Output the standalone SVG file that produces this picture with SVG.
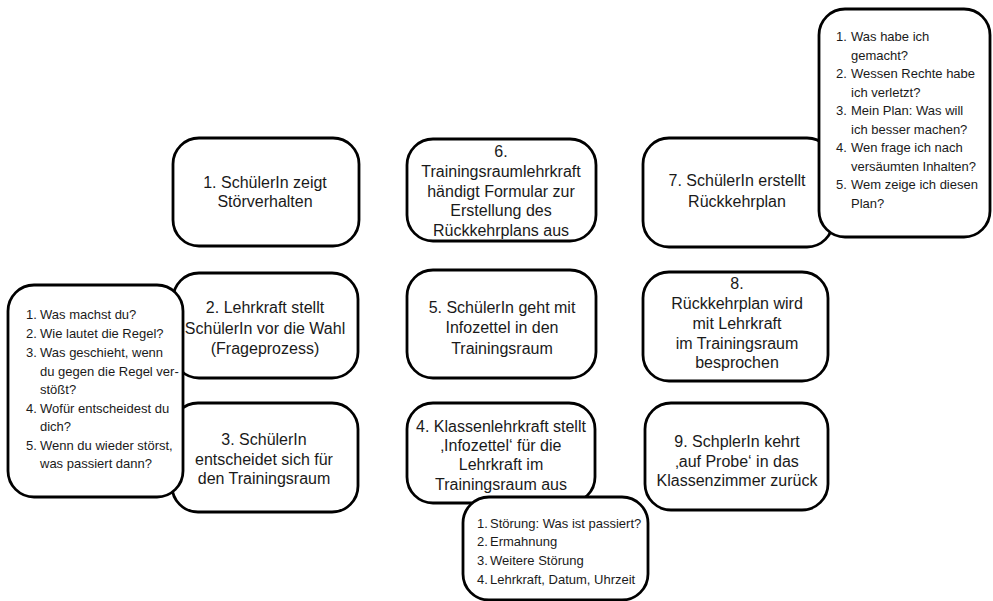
<svg xmlns="http://www.w3.org/2000/svg" width="993" height="601" viewBox="0 0 993 601">
<style>
.box{fill:#fff;stroke:#000;stroke-width:2.8}
.t{font-family:"Liberation Sans",Arial,sans-serif;font-size:16px;fill:#1a1a1a;text-anchor:middle}
.c{font-family:"Liberation Sans",Arial,sans-serif;font-size:13px;fill:#1a1a1a}
</style>
<rect width="993" height="601" fill="#fff"/>
<g id="connectors"/>
<g id="n1"><rect class="box" x="173" y="138" width="186" height="108" rx="26"/>
<text class="t"><tspan x="265" y="188">1. SchülerIn zeigt</tspan><tspan x="265" y="207">Störverhalten</tspan></text></g>
<g id="n6"><rect class="box" x="407" y="139" width="189" height="102" rx="26"/>
<text class="t"><tspan x="501" y="157">6.</tspan><tspan x="501" y="177">Trainingsraumlehrkraft</tspan><tspan x="501" y="197">händigt Formular zur</tspan><tspan x="501" y="216">Erstellung des</tspan><tspan x="501" y="236">Rückkehrplans aus</tspan></text></g>
<g id="n7"><rect class="box" x="643" y="138" width="190" height="109" rx="26"/>
<text class="t"><tspan x="737" y="186">7. SchülerIn erstellt</tspan><tspan x="737" y="207">Rückkehrplan</tspan></text></g>
<g id="callout7"><rect class="box" x="819" y="9" width="171" height="228" rx="26"/>
<text class="c"><tspan x="836" y="41">1.</tspan><tspan x="851" y="41">Was habe ich</tspan><tspan x="851" y="59.5">gemacht?</tspan><tspan x="836" y="78">2.</tspan><tspan x="851" y="78">Wessen Rechte habe</tspan><tspan x="851" y="96.5">ich verletzt?</tspan><tspan x="836" y="115">3.</tspan><tspan x="851" y="115">Mein Plan: Was will</tspan><tspan x="851" y="133.5">ich besser machen?</tspan><tspan x="836" y="152">4.</tspan><tspan x="851" y="152">Wen frage ich nach</tspan><tspan x="851" y="170.5">versäumten Inhalten?</tspan><tspan x="836" y="189">5.</tspan><tspan x="851" y="189">Wem zeige ich diesen</tspan><tspan x="851" y="207.5">Plan?</tspan></text></g>
<g id="n2"><rect class="box" x="173" y="273" width="185" height="105" rx="26"/>
<text class="t"><tspan x="265" y="313">2. Lehrkraft stellt</tspan><tspan x="265" y="334">SchülerIn vor die Wahl</tspan><tspan x="265" y="354">(Frageprozess)</tspan></text></g>
<g id="n3"><rect class="box" x="172" y="403" width="186" height="109" rx="26"/>
<text class="t"><tspan x="264" y="445">3. SchülerIn</tspan><tspan x="264" y="465">entscheidet sich für</tspan><tspan x="264" y="484">den Trainingsraum</tspan></text></g>
<g id="callout2"><rect class="box" x="8" y="285" width="175" height="212" rx="26"/>
<text class="c"><tspan x="26" y="319">1.</tspan><tspan x="40" y="319">Was machst du?</tspan><tspan x="26" y="337.5">2.</tspan><tspan x="40" y="337.5">Wie lautet die Regel?</tspan><tspan x="26" y="356.5">3.</tspan><tspan x="40" y="356.5">Was geschieht, wenn</tspan><tspan x="40" y="375.5">du gegen die Regel ver-</tspan><tspan x="40" y="394">stößt?</tspan><tspan x="26" y="412.5">4.</tspan><tspan x="40" y="412.5">Wofür entscheidest du</tspan><tspan x="40" y="431">dich?</tspan><tspan x="26" y="449.5">5.</tspan><tspan x="40" y="449.5">Wenn du wieder störst,</tspan><tspan x="40" y="468">was passiert dann?</tspan></text></g>
<g id="n5"><rect class="box" x="407" y="270" width="189" height="108" rx="26"/>
<text class="t"><tspan x="502" y="313">5. SchülerIn geht mit</tspan><tspan x="502" y="333">Infozettel in den</tspan><tspan x="502" y="354">Trainingsraum</tspan></text></g>
<g id="n4"><rect class="box" x="407" y="403" width="188" height="100" rx="26"/>
<text class="t"><tspan x="501" y="432">4. Klassenlehrkraft stellt</tspan><tspan x="501" y="451">‚Infozettel‘ für die</tspan><tspan x="501" y="470">Lehrkraft im</tspan><tspan x="501" y="490">Trainingsraum aus</tspan></text></g>
<g id="callout4"><rect class="box" x="463" y="497" width="185" height="103" rx="26"/>
<text class="c"><tspan x="477" y="527.5">1.</tspan><tspan x="490" y="527.5">Störung: Was ist passiert?</tspan><tspan x="477" y="546">2.</tspan><tspan x="490" y="546">Ermahnung</tspan><tspan x="477" y="565">3.</tspan><tspan x="490" y="565">Weitere Störung</tspan><tspan x="477" y="583.5">4.</tspan><tspan x="490" y="583.5">Lehrkraft, Datum, Uhrzeit</tspan></text></g>
<g id="n8"><rect class="box" x="643" y="272" width="185" height="109" rx="26"/>
<text class="t"><tspan x="737" y="289">8.</tspan><tspan x="737" y="309">Rückkehrplan wird</tspan><tspan x="737" y="329">mit Lehrkraft</tspan><tspan x="737" y="349">im Trainingsraum</tspan><tspan x="737" y="368">besprochen</tspan></text></g>
<g id="n9"><rect class="box" x="645" y="403" width="183" height="107" rx="26"/>
<text class="t"><tspan x="737" y="447">9. SchplerIn kehrt</tspan><tspan x="737" y="467">‚auf Probe‘ in das</tspan><tspan x="737" y="486">Klassenzimmer zurück</tspan></text></g>
</svg>
